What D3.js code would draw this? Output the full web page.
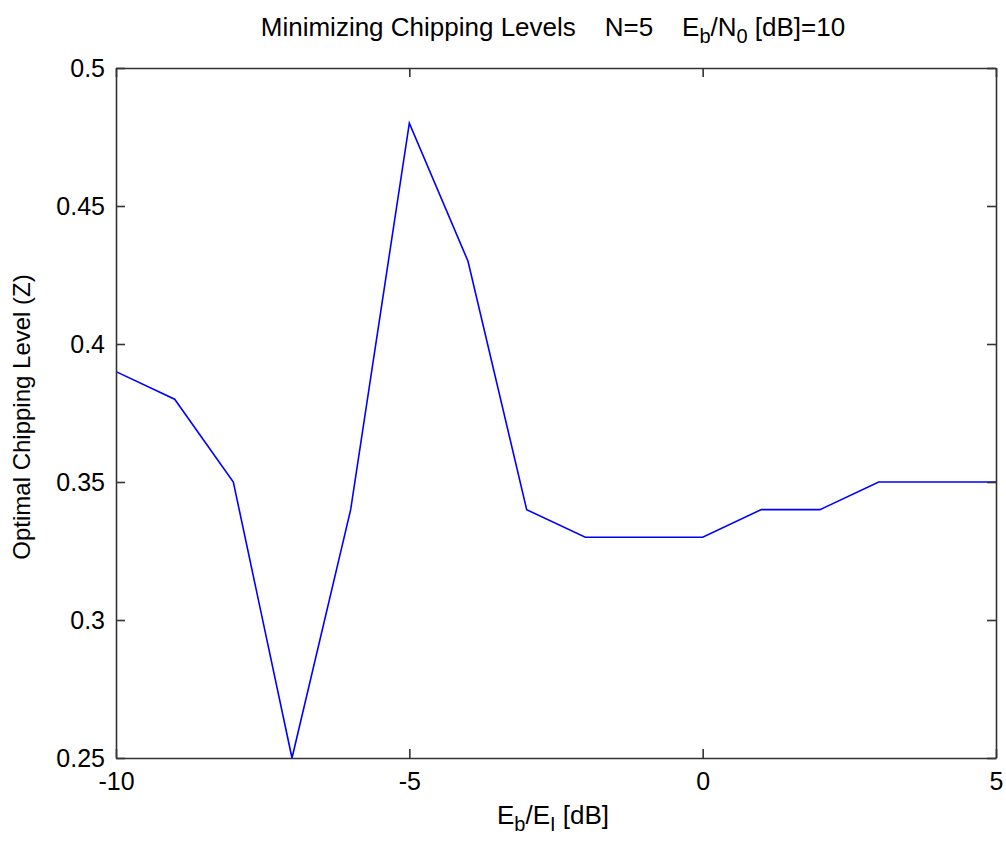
<!DOCTYPE html>
<html>
<head>
<meta charset="utf-8">
<script src="https://cdn.jsdelivr.net/npm/d3@7"></script>
<style>
  html, body { margin: 0; padding: 0; background: #fff; }
  text { font-family: "Liberation Sans", Arial, sans-serif; fill: #000; }
</style>
</head>
<body>
<svg id="chart" width="1006" height="841"></svg>
<script>
// Eb/EI sweep in dB and the optimal chipping level found at each point
const ebEi = [-10, -9, -8, -7, -6, -5, -4, -3, -2, -1, 0, 1, 2, 3, 4, 5];
const chipLevel = [0.39, 0.38, 0.35, 0.25, 0.34, 0.48, 0.43, 0.34, 0.33, 0.33, 0.33, 0.34, 0.34, 0.35, 0.35, 0.35];
const xTicks = [-10, -5, 0, 5];
const yTicks = [0.25, 0.3, 0.35, 0.4, 0.45, 0.5];

const svg = d3.select("#chart");
const plotLeft = 116, plotRight = 996, plotTop = 68, plotBottom = 758;
const tickLen = 9;
const fontSize = 25;
const labelSize = 26;
const subSize = 20;

const x = d3.scaleLinear().domain([-10, 5]).range([plotLeft, plotRight]);
const y = d3.scaleLinear().domain([0.25, 0.5]).range([plotBottom, plotTop]);

// data line
const line = d3.line().x((d, i) => x(ebEi[i])).y(d => y(d));
svg.append("path")
  .datum(chipLevel)
  .attr("d", line)
  .attr("fill", "none")
  .attr("stroke", "#0000ff")
  .attr("stroke-width", 1.6);

// axes with inward ticks, mirrored on the opposite sides to close the box
const axisStyle = g => {
  g.selectAll(".domain").attr("stroke", "#333").attr("stroke-width", 1.6);
  g.selectAll(".tick line").attr("stroke", "#333").attr("stroke-width", 1.6);
  g.selectAll("text").style("font-size", fontSize + "px").attr("fill", "#000");
};

svg.append("g")
  .attr("transform", `translate(0,${plotBottom})`)
  .call(d3.axisBottom(x).tickValues(xTicks).tickSize(-tickLen).tickSizeOuter(0).tickPadding(14)
    .tickFormat(d => String(d)))
  .call(axisStyle);

svg.append("g")
  .attr("transform", `translate(0,${plotTop})`)
  .call(d3.axisTop(x).tickValues(xTicks).tickSize(-tickLen).tickSizeOuter(0).tickFormat(""))
  .call(axisStyle);

svg.append("g")
  .attr("transform", `translate(${plotLeft},0)`)
  .call(d3.axisLeft(y).tickValues(yTicks).tickSize(-tickLen).tickSizeOuter(0).tickPadding(11)
    .tickFormat(d => String(+d.toFixed(2))))
  .call(axisStyle);

svg.append("g")
  .attr("transform", `translate(${plotRight},0)`)
  .call(d3.axisRight(y).tickValues(yTicks).tickSize(-tickLen).tickSizeOuter(0).tickFormat(""))
  .call(axisStyle);

// title with subscripts
const title = svg.append("text")
  .attr("x", (plotLeft + plotRight) / 2 - 3)
  .attr("y", 36)
  .attr("text-anchor", "middle")
  .style("font-size", labelSize + "px")
  .attr("xml:space", "preserve");
title.append("tspan").text("Minimizing Chipping Levels    N=5    E");
title.append("tspan").attr("dy", 7).style("font-size", subSize + "px").text("b");
title.append("tspan").attr("dy", -7).text("/N");
title.append("tspan").attr("dy", 7).style("font-size", subSize + "px").text("0");
title.append("tspan").attr("dy", -7).text(" [dB]=10");

// x axis label
const xl = svg.append("text")
  .attr("x", (plotLeft + plotRight) / 2 - 3)
  .attr("y", 824)
  .attr("text-anchor", "middle")
  .style("font-size", labelSize + "px");
xl.append("tspan").text("E");
xl.append("tspan").attr("dy", 7).style("font-size", subSize + "px").text("b");
xl.append("tspan").attr("dy", -7).text("/E");
xl.append("tspan").attr("dy", 7).style("font-size", subSize + "px").text("I");
xl.append("tspan").attr("dy", -7).text(" [dB]");

// y axis label
svg.append("text")
  .attr("transform", `translate(30,${(plotTop + plotBottom) / 2 + 4}) rotate(-90)`)
  .attr("text-anchor", "middle")
  .style("font-size", "24px")
  .text("Optimal Chipping Level (Z)");
</script>
</body>
</html>
